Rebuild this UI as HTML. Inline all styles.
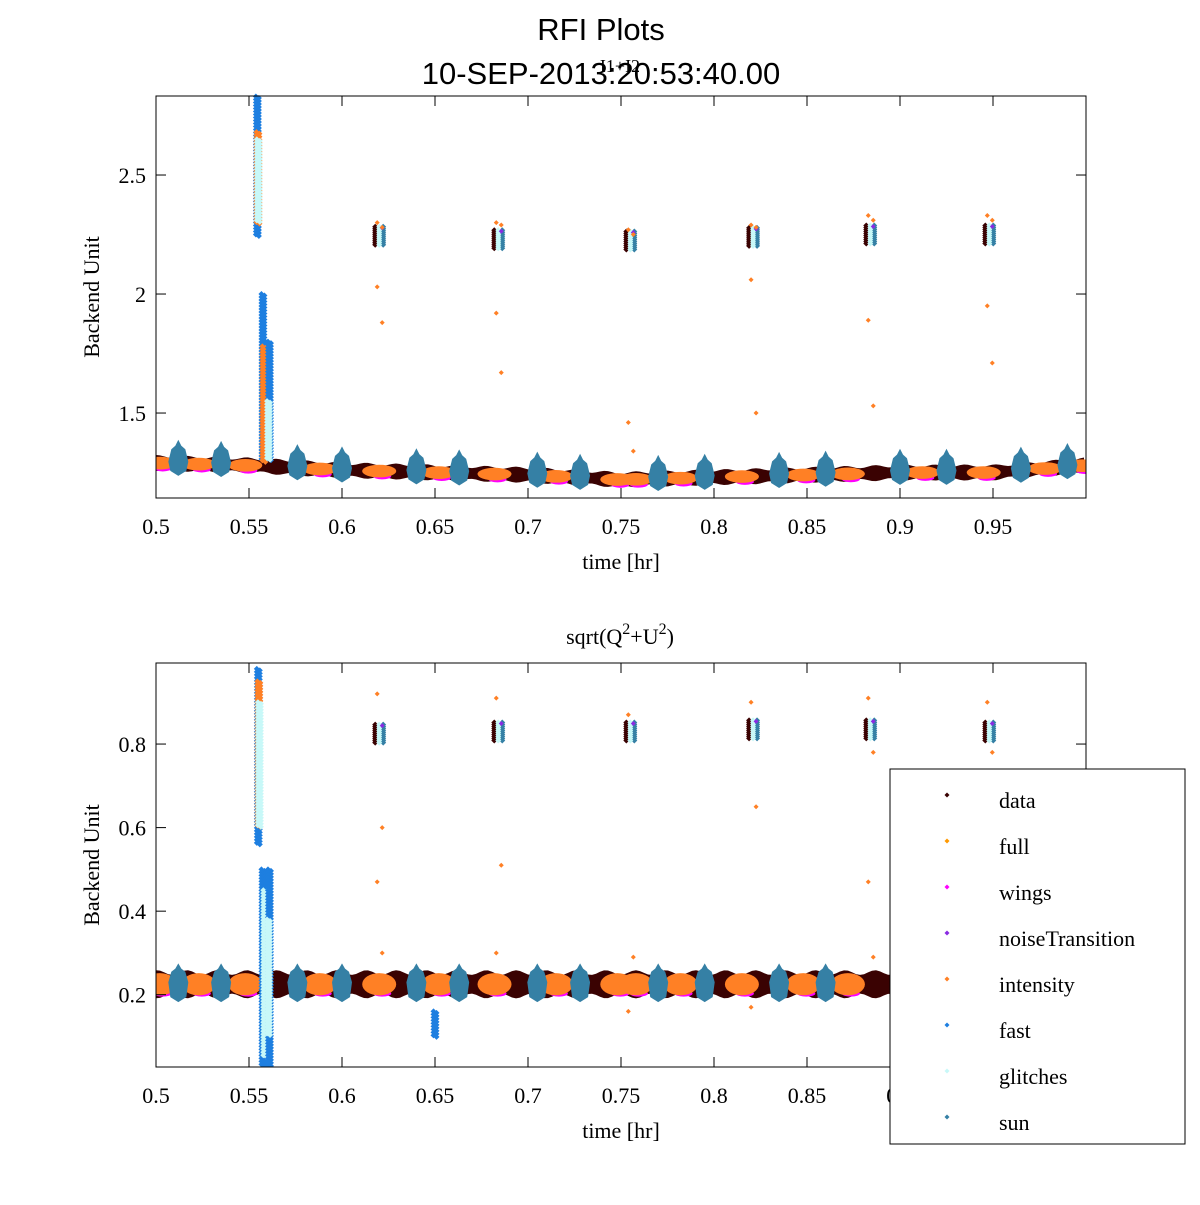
<!DOCTYPE html>
<html><head><meta charset="utf-8"><style>
body{margin:0;background:#fff;}
svg text{font-family:"Liberation Serif",serif;}
</style></head><body>
<svg id="c" width="1200" height="1200" xmlns="http://www.w3.org/2000/svg">
<text x="601" y="40" font-size="31" text-anchor="middle" style="font-family:'Liberation Sans',sans-serif">RFI Plots</text>
<text x="601" y="84" font-size="31" text-anchor="middle" style="font-family:'Liberation Sans',sans-serif">10-SEP-2013:20:53:40.00</text>
<text x="620" y="72" font-size="18" text-anchor="middle">I1+I2</text>
<text x="620" y="644" font-size="22" text-anchor="middle">sqrt(Q<tspan dy="-10" font-size="16">2</tspan><tspan dy="10">+U</tspan><tspan dy="-10" font-size="16">2</tspan><tspan dy="10">)</tspan></text>
<g id="p1"></g>
<g id="p2"></g>
<g id="leg"></g>
</svg>
<script>
const xTicks=[0.5,0.55,0.6,0.65,0.7,0.75,0.8,0.85,0.9,0.95];
const xTickLabels=["0.5","0.55","0.6","0.65","0.7","0.75","0.8","0.85","0.9","0.95"];
const topYTicks=[1.5,2,2.5];
const topYLabels=["1.5","2","2.5"];
const botYTicks=[0.2,0.4,0.6,0.8];
const botYLabels=["0.2","0.4","0.6","0.8"];
const knotX=[0.5,0.55,0.6,0.65,0.7,0.75,0.8,0.85,0.9,0.95,1.0];
const topBase=[1.29,1.28,1.26,1.25,1.24,1.22,1.23,1.24,1.25,1.25,1.28];
const botBase=[0.225,0.225,0.225,0.225,0.225,0.225,0.225,0.225,0.225,0.225,0.225];
const sunX=[0.512,0.535,0.576,0.6,0.64,0.663,0.705,0.728,0.77,0.795,0.835,0.86,0.9,0.925,0.965,0.99];
const orangeX=[0.502,0.523,0.548,0.588,0.62,0.652,0.682,0.715,0.748,0.758,0.782,0.815,0.848,0.872,0.912,0.945,0.978,0.998];
const eventX=[0.62,0.684,0.755,0.821,0.884,0.948];
const topEventVal=[2.245,2.23,2.225,2.24,2.25,2.25];
const botEventVal=[0.825,0.83,0.83,0.835,0.835,0.83];
const topOutliers=[[2.3,2.28,2.03,1.88],[2.3,2.29,1.92,1.67],[2.27,2.25,1.46,1.34],[2.29,2.28,2.06,1.5],[2.33,2.31,1.89,1.53],[2.33,2.31,1.95,1.71]];
const botOutliers=[[0.92,0.6,0.47,0.3],[0.91,0.51,0.3],[0.87,0.29,0.16],[0.9,0.65,0.17],[0.91,0.78,0.47,0.29],[0.9,0.78,0.28]];
const topSpikes=[[0.5545,2.25,2.83,"fast"],[0.5548,2.3,2.68,"intensity"],[0.555,2.3,2.65,"glitches"],[0.5575,1.3,2.0,"fast"],[0.558,1.3,1.78,"intensity"],[0.561,1.3,1.8,"fast"],[0.5605,1.3,1.55,"glitches"]];
const botSpikes=[[0.555,0.56,0.98,"fast"],[0.5553,0.6,0.95,"intensity"],[0.5556,0.6,0.9,"glitches"],[0.5575,0.03,0.5,"fast"],[0.5585,0.05,0.45,"glitches"],[0.561,0.03,0.5,"fast"],[0.5605,0.1,0.38,"glitches"],[0.65,0.1,0.16,"fast"]];
const legendNames=["data","full","wings","noiseTransition","intensity","fast","glitches","sun"];
const colors={data:"#3a0202",full:"#ff9900",wings:"#ff00ff",noiseTransition:"#8a2be2",intensity:"#ff8025",fast:"#1e7fe0",glitches:"#c8f8f8",sun:"#3580a5"};
const NS="http://www.w3.org/2000/svg";
function mk(tag,attrs,parent){const e=document.createElementNS(NS,tag);for(const k in attrs)e.setAttribute(k,attrs[k]);parent.appendChild(e);return e;}
function dia(g,x,y,r,c){const e=mk("path",{d:`M${x-r} ${y}L${x} ${y-r}L${x+r} ${y}L${x} ${y+r}Z`,fill:c},g);

return e;}
function interp(xs,ys,x){for(let i=0;i<xs.length-1;i++){if(x<=xs[i+1]){const t=(x-xs[i])/(xs[i+1]-xs[i]);return ys[i]+t*(ys[i+1]-ys[i]);}}return ys[ys.length-1];}
function panel(g,box,y0,y1,yT,yL,base,half,sunH,events,outl,spikes){
 const X=v=>box.l+(v-0.5)/(0.5)*(box.r-box.l);
 const Y=v=>box.b-(v-y0)/(y1-y0)*(box.b-box.t);
 const clip=mk("clipPath",{id:g.id+"c"},g);mk("rect",{x:box.l,y:box.t-12,width:box.r-box.l,height:box.b-box.t+12},clip);
 const d=mk("g",{"clip-path":`url(#${g.id}c)`},g);
 
 let up="",dn="";
 for(let px=box.l;px<=box.r;px+=4){const v=interp(knotX,base,0.5+(px-box.l)/(box.r-box.l)*0.5);const w=half*(1+0.2*Math.sin(px*0.21));up+=`${px},${Y(v+w)} `;dn=`${px},${Y(v-w)} `+dn;}
 const band=mk("polygon",{points:up+dn,fill:colors.data},d);
 
 orangeX.forEach(x=>{const v=interp(knotX,base,x);const e=mk("ellipse",{cx:X(x)+3,cy:Y(v-half*0.8),rx:9,ry:3,fill:colors.wings},d);
  });
 orangeX.forEach(x=>{const v=interp(knotX,base,x);const e=mk("ellipse",{cx:X(x),cy:Y(v),rx:17,ry:Math.abs(Y(v+half*0.95)-Y(v)),fill:colors.intensity},d);
  });
 sunX.forEach(x=>{const v=interp(knotX,base,x);const cx=X(x),cy=Y(v);const ht=Math.abs(Y(v+sunH)-cy);const hb=Math.abs(Y(v-half*1.1)-cy);
  const e=mk("path",{d:`M${cx-10} ${cy-2}L${cx-7} ${cy-ht*0.6}L${cx-3} ${cy-ht*0.75}L${cx} ${cy-ht}L${cx+3} ${cy-ht*0.75}L${cx+7} ${cy-ht*0.6}L${cx+10} ${cy-2}L${cx+8} ${cy+hb}L${cx} ${cy+hb+5}L${cx-8} ${cy+hb}Z`,fill:colors.sun},d);
  });
 events.forEach((x,i)=>{const cx=X(x),cy=Y(outl.vals[i]);
  for(let k=-9;k<=9;k+=2){dia(d,cx-4,cy+k,3,colors.data);dia(d,cx+4,cy+k,3,colors.sun);dia(d,cx,cy+k,3,colors.glitches);}
  dia(d,cx+3,cy-8,2.5,colors.noiseTransition);
  outl.out[i].forEach((o,j)=>dia(d,cx+(j%2?3:-2),Y(o),2.5,colors.intensity));});
 spikes.forEach(s=>{const cx=X(s[0]);for(let yy=Y(s[2]);yy<=Y(s[1]);yy+=3){dia(d,cx-1.5,yy,3,colors[s[3]]);dia(d,cx+1.5,yy+1.5,3,colors[s[3]]);}});
 const ax=mk("rect",{x:box.l,y:box.t,width:box.r-box.l,height:box.b-box.t,fill:"none",stroke:"#000","stroke-width":1},g);
 
 xTicks.forEach((t,i)=>{const x=X(t);mk("line",{x1:x,x2:x,y1:box.b,y2:box.b-10,stroke:"#000"},g);mk("line",{x1:x,x2:x,y1:box.t,y2:box.t+10,stroke:"#000"},g);
  const tx=mk("text",{x:x,y:box.b+36,"font-size":22,"text-anchor":"middle"},g);tx.textContent=xTickLabels[i];
  });
 yT.forEach((t,i)=>{const y=Y(t);mk("line",{x1:box.l,x2:box.l+10,y1:y,y2:y,stroke:"#000"},g);mk("line",{x1:box.r,x2:box.r-10,y1:y,y2:y,stroke:"#000"},g);
  const tx=mk("text",{x:box.l-10,y:y+8,"font-size":22,"text-anchor":"end"},g);tx.textContent=yL[i];
  });
 const xl=mk("text",{x:(box.l+box.r)/2,y:box.b+71,"font-size":22,"text-anchor":"middle"},g);xl.textContent="time [hr]";
 
 const yl=mk("text",{x:0,y:0,"font-size":22,"text-anchor":"middle",transform:`translate(99 ${(box.t+box.b)/2}) rotate(-90)`},g);yl.textContent="Backend Unit";
 
}
panel(document.getElementById("p1"),{l:156,r:1086,t:96,b:498},1.143,2.832,topYTicks,topYLabels,topBase,0.028,0.1,eventX,{vals:topEventVal,out:topOutliers},topSpikes);
panel(document.getElementById("p2"),{l:156,r:1086,t:663,b:1067},0.027,0.994,botYTicks,botYLabels,botBase,0.028,0.05,eventX,{vals:botEventVal,out:botOutliers},botSpikes);
const leg=document.getElementById("leg");
const lb=mk("rect",{x:890,y:769,width:295,height:375,fill:"#fff",stroke:"#000"},leg);

legendNames.forEach((n,i)=>{const y=801+i*46;
 dia(leg,947,y-6,2.5,colors[n]);
 const t=mk("text",{x:999,y:y+7,"font-size":22},leg);t.textContent=n;
 });
</script>
</body></html>
